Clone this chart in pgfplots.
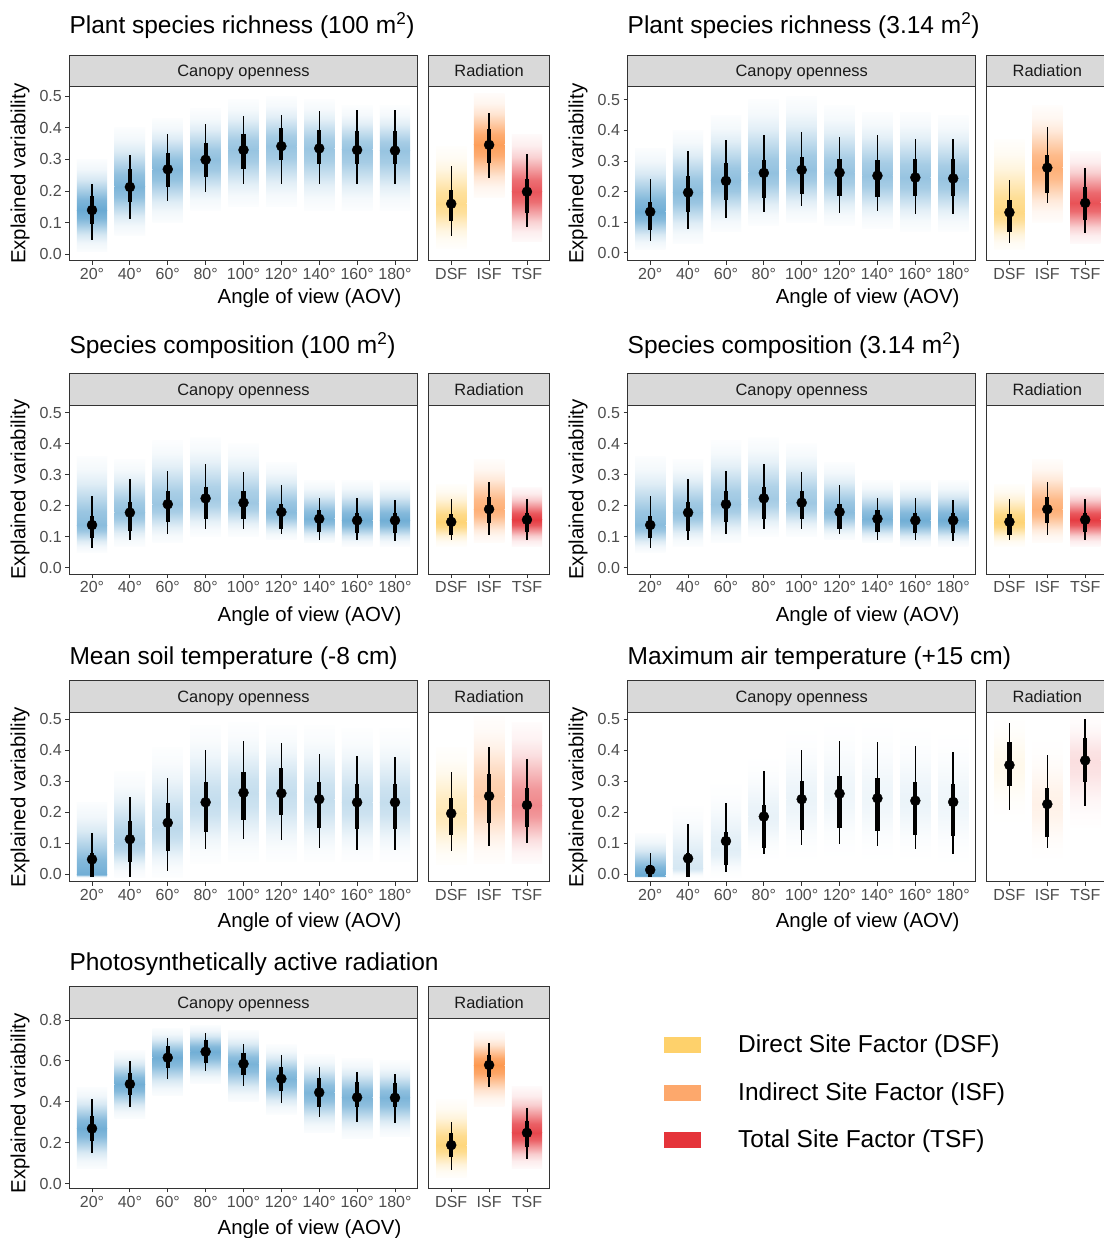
\documentclass[border=0pt]{standalone}
\usepackage{pgfplots}
\usepackage{pgfplotstable}
\pgfplotsset{compat=1.18}
\usepackage{fontspec}
\setmainfont{Liberation Sans}

\definecolor{gray20}{HTML}{333333}
\definecolor{gray30}{HTML}{4D4D4D}
\definecolor{gray85}{HTML}{D9D9D9}
\definecolor{gray10}{HTML}{1A1A1A}
\definecolor{cblue}{RGB}{88,160,206}
\definecolor{cdsf}{RGB}{254,204,92}
\definecolor{cisf}{RGB}{253,141,60}
\definecolor{ctsf}{RGB}{227,38,45}
\definecolor{ldsf}{RGB}{254,209,107}
\definecolor{lisf}{RGB}{253,168,108}
\definecolor{ltsf}{RGB}{229,52,58}
\colorlet{gcol}{cblue}

\pgfdeclareverticalshading[gcol]{gup}{100bp}{color(0bp)=(gcol!3); color(25bp)=(gcol!3); color(35bp)=(gcol!10); color(45bp)=(gcol!27); color(55bp)=(gcol!56); color(65bp)=(gcol!86); color(75bp)=(gcol); color(100bp)=(gcol)}
\pgfdeclareverticalshading[gcol]{gdown}{100bp}{color(0bp)=(gcol); color(25bp)=(gcol); color(35bp)=(gcol!86); color(45bp)=(gcol!56); color(55bp)=(gcol!27); color(65bp)=(gcol!10); color(75bp)=(gcol!3); color(100bp)=(gcol!3)}

\newcommand\fsTitle{\fontsize{24.5bp}{29bp}\selectfont}
\newcommand\fsAxis{\fontsize{20.4bp}{24bp}\selectfont}
\newcommand\fsTick{\fontsize{16bp}{19bp}\selectfont}
\newcommand\fsStrip{\fontsize{16.4bp}{19bp}\selectfont}

% ---------------- data ----------------
% columns: x, gradient low / peak / high, peak intensity (percent), colour, 95% low, 66% low, median, 66% high, 95% high
% Plant species richness (100 m2)
\pgfplotstableread{
x glo gpk ghi a c l95 l66 med h66 h95
1 0.01 0.140 0.30 90 cblue 0.045 0.096 0.140 0.185 0.222
2 0.06 0.213 0.40 78 cblue 0.112 0.167 0.213 0.269 0.313
3 0.10 0.269 0.43 74 cblue 0.169 0.214 0.269 0.320 0.380
4 0.14 0.299 0.46 66 cblue 0.197 0.243 0.299 0.351 0.412
5 0.15 0.330 0.49 62 cblue 0.223 0.271 0.330 0.381 0.438
6 0.15 0.342 0.50 62 cblue 0.223 0.297 0.342 0.400 0.440
7 0.14 0.335 0.49 60 cblue 0.223 0.287 0.335 0.392 0.453
8 0.14 0.330 0.47 62 cblue 0.223 0.285 0.330 0.390 0.456
9 0.14 0.328 0.47 62 cblue 0.221 0.285 0.328 0.390 0.455
}\PAa
\pgfplotstableread{
x glo gpk ghi a c l95 l66 med h66 h95
1 0.02 0.160 0.34 70 cdsf 0.058 0.104 0.160 0.205 0.280
2 0.18 0.346 0.51 85 cisf 0.240 0.290 0.346 0.395 0.447
3 0.04 0.198 0.38 78 ctsf 0.085 0.130 0.198 0.239 0.318
}\PBa
% Plant species richness (3.14 m2)
\pgfplotstableread{
x glo gpk ghi a c l95 l66 med h66 h95
1 0.01 0.134 0.34 85 cblue 0.038 0.076 0.134 0.167 0.240
2 0.03 0.197 0.40 70 cblue 0.079 0.133 0.197 0.251 0.333
3 0.07 0.235 0.45 68 cblue 0.114 0.171 0.235 0.293 0.369
4 0.09 0.261 0.50 65 cblue 0.133 0.180 0.261 0.302 0.384
5 0.10 0.271 0.51 64 cblue 0.153 0.191 0.271 0.313 0.395
6 0.09 0.262 0.48 62 cblue 0.131 0.186 0.262 0.308 0.379
7 0.08 0.252 0.46 62 cblue 0.136 0.183 0.252 0.302 0.384
8 0.07 0.246 0.46 62 cblue 0.126 0.186 0.246 0.306 0.371
9 0.07 0.243 0.45 62 cblue 0.126 0.186 0.243 0.306 0.371
}\PAb
\pgfplotstableread{
x glo gpk ghi a c l95 l66 med h66 h95
1 0.01 0.132 0.37 75 cdsf 0.033 0.069 0.132 0.171 0.237
2 0.10 0.278 0.48 70 cisf 0.164 0.195 0.278 0.320 0.412
3 0.03 0.163 0.33 80 ctsf 0.066 0.106 0.163 0.215 0.278
}\PBb
% Species composition (100 m2) and (3.14 m2)
\pgfplotstableread{
x glo gpk ghi a c l95 l66 med h66 h95
1 0.05 0.138 0.36 70 cblue 0.065 0.095 0.138 0.168 0.231
2 0.07 0.178 0.35 65 cblue 0.089 0.119 0.178 0.211 0.285
3 0.08 0.205 0.41 60 cblue 0.108 0.148 0.205 0.247 0.313
4 0.10 0.224 0.42 55 cblue 0.124 0.158 0.224 0.259 0.334
5 0.10 0.210 0.40 58 cblue 0.124 0.157 0.210 0.248 0.310
6 0.09 0.180 0.34 70 cblue 0.108 0.125 0.180 0.205 0.267
7 0.08 0.158 0.28 80 cblue 0.089 0.117 0.158 0.186 0.226
8 0.07 0.153 0.28 85 cblue 0.089 0.111 0.153 0.177 0.224
9 0.07 0.153 0.28 85 cblue 0.087 0.111 0.153 0.177 0.220
}\PAc
\pgfplotstableread{
x glo gpk ghi a c l95 l66 med h66 h95
1 0.07 0.148 0.27 85 cdsf 0.089 0.106 0.148 0.175 0.223
2 0.08 0.189 0.35 70 cisf 0.105 0.143 0.189 0.227 0.277
3 0.07 0.155 0.26 90 ctsf 0.089 0.114 0.155 0.177 0.223
}\PBc
% Mean soil temperature (-8 cm)
\pgfplotstableread{
x glo gpk ghi a c l95 l66 med h66 h95
1 -0.01 0.000 0.23 85 cblue -0.008 -0.008 0.048 0.070 0.134
2 -0.01 0.100 0.33 50 cblue -0.008 0.041 0.113 0.173 0.248
3 -0.01 0.150 0.41 40 cblue 0.012 0.075 0.166 0.231 0.311
4 0.035 0.232 0.48 36 cblue 0.080 0.137 0.232 0.296 0.400
5 0.04 0.263 0.49 35 cblue 0.113 0.175 0.263 0.328 0.429
6 0.04 0.261 0.48 35 cblue 0.111 0.191 0.261 0.341 0.424
7 0.04 0.242 0.48 35 cblue 0.084 0.150 0.242 0.296 0.389
8 0.04 0.232 0.47 35 cblue 0.078 0.146 0.232 0.290 0.382
9 0.04 0.232 0.47 35 cblue 0.078 0.146 0.232 0.290 0.377
}\PAe
\pgfplotstableread{
x glo gpk ghi a c l95 l66 med h66 h95
1 0.03 0.196 0.41 45 cdsf 0.076 0.127 0.196 0.246 0.330
2 0.035 0.252 0.51 45 cisf 0.091 0.164 0.252 0.322 0.411
3 0.035 0.223 0.49 55 ctsf 0.100 0.153 0.223 0.279 0.371
}\PBe
% Maximum air temperature (+15 cm)
\pgfplotstableread{
x glo gpk ghi a c l95 l66 med h66 h95
1 -0.01 -0.005 0.13 90 cblue -0.008 -0.008 0.014 0.030 0.068
2 -0.01 0.020 0.22 25 cblue -0.008 -0.008 0.051 0.068 0.161
3 -0.01 0.080 0.29 18 cblue 0.008 0.030 0.107 0.137 0.230
4 0.05 0.186 0.37 14 cblue 0.064 0.084 0.186 0.222 0.333
5 0.05 0.242 0.46 12 cblue 0.094 0.143 0.242 0.300 0.400
6 0.06 0.260 0.49 10 cblue 0.097 0.150 0.260 0.317 0.429
7 0.05 0.245 0.49 10 cblue 0.092 0.141 0.245 0.309 0.427
8 0.05 0.237 0.47 12 cblue 0.083 0.127 0.237 0.298 0.415
9 0.04 0.233 0.45 10 cblue 0.064 0.123 0.233 0.291 0.395
}\PAf
\pgfplotstableread{
x glo gpk ghi a c l95 l66 med h66 h95
1 0.17 0.352 0.52 12 cdsf 0.207 0.284 0.352 0.425 0.486
2 0.05 0.226 0.43 12 cisf 0.084 0.121 0.226 0.279 0.384
3 0.15 0.367 0.52 15 ctsf 0.220 0.298 0.367 0.438 0.499
}\PBf
% Photosynthetically active radiation
\pgfplotstableread{
x glo gpk ghi a c l95 l66 med h66 h95
1 0.075 0.270 0.47 85 cblue 0.151 0.210 0.270 0.331 0.412
2 0.32 0.487 0.65 85 cblue 0.375 0.433 0.487 0.539 0.599
3 0.43 0.616 0.76 85 cblue 0.510 0.567 0.616 0.673 0.710
4 0.49 0.645 0.775 85 cblue 0.550 0.591 0.645 0.702 0.738
5 0.40 0.586 0.75 80 cblue 0.479 0.531 0.586 0.637 0.681
6 0.34 0.513 0.68 78 cblue 0.393 0.453 0.513 0.568 0.629
7 0.25 0.446 0.63 78 cblue 0.327 0.376 0.446 0.515 0.568
8 0.22 0.422 0.61 78 cblue 0.300 0.373 0.422 0.495 0.544
9 0.23 0.420 0.60 78 cblue 0.295 0.373 0.420 0.490 0.536
}\PAg
\pgfplotstableread{
x glo gpk ghi a c l95 l66 med h66 h95
1 0.03 0.189 0.41 80 cdsf 0.067 0.132 0.189 0.249 0.303
2 0.376 0.580 0.743 90 cisf 0.474 0.523 0.580 0.628 0.686
3 0.077 0.249 0.474 85 ctsf 0.119 0.181 0.249 0.306 0.368
}\PBg

% ---------------- drawing helpers ----------------
\newcommand\gradbars[1]{%
  \pgfplotstablegetrowsof{#1}%
  \pgfmathtruncatemacro\gbN{\pgfplotsretval-1}%
  \pgfplotsforeachungrouped \gbi in {0,...,\gbN}{%
    \pgfplotstablegetelem{\gbi}{x}\of{#1}\let\gbx\pgfplotsretval
    \pgfplotstablegetelem{\gbi}{glo}\of{#1}\let\gblo\pgfplotsretval
    \pgfplotstablegetelem{\gbi}{gpk}\of{#1}\let\gbpk\pgfplotsretval
    \pgfplotstablegetelem{\gbi}{ghi}\of{#1}\let\gbhi\pgfplotsretval
    \pgfplotstablegetelem{\gbi}{a}\of{#1}\let\gba\pgfplotsretval
    \pgfplotstablegetelem{\gbi}{c}\of{#1}\let\gbc\pgfplotsretval
    \pgfmathsetmacro\gbl{\gbx-0.4}%
    \pgfmathsetmacro\gbr{\gbx+0.4}%
    \edef\gbcmd{%
      \noexpand\addplot[draw=none, /utils/exec={\noexpand\colorlet{gcol}{\gbc!\gba}}, shading=gup]
        coordinates {(\gbl,\gblo) (\gbr,\gblo) (\gbr,\gbpk) (\gbl,\gbpk)} -- cycle;
      \noexpand\addplot[draw=none, /utils/exec={\noexpand\colorlet{gcol}{\gbc!\gba}}, shading=gdown]
        coordinates {(\gbl,\gbpk) (\gbr,\gbpk) (\gbr,\gbhi) (\gbl,\gbhi)} -- cycle;
    }\gbcmd
  }%
}
\newcommand\intervals[1]{%
  \addplot[only marks, mark=none, error bars/.cd, y dir=both, y explicit, error mark=none,
    error bar style={draw=black, line width=1.4bp}]
    table[x=x, y=med, y error plus expr=\thisrow{h95}-\thisrow{med}, y error minus expr=\thisrow{med}-\thisrow{l95}] {#1};
  \addplot[only marks, mark=none, error bars/.cd, y dir=both, y explicit, error mark=none,
    error bar style={draw=black, line width=4.2bp}]
    table[x=x, y=med, y error plus expr=\thisrow{h66}-\thisrow{med}, y error minus expr=\thisrow{med}-\thisrow{l66}] {#1};
  \addplot[only marks, mark=*, mark size=5bp, mark options={draw=black, fill=black}] table[x=x, y=med] {#1};
}

\pgfplotsset{
  facet/.style={scale only axis, anchor=north west,
    axis line style={draw=gray20, line width=0.9bp},
    tick align=outside, major tick length=4bp,
    every tick/.style={draw=gray20, line width=0.9bp},
    tick pos=left,
    xticklabel style={font=\fsTick, text=gray30},
    yticklabel style={font=\fsTick, text=gray30},
    clip=true},
  yA/.style={ytick={0,0.1,0.2,0.3,0.4,0.5}, yticklabels={0.0,0.1,0.2,0.3,0.4,0.5}},
  yB/.style={ytick={0,0.2,0.4,0.6,0.8}, yticklabels={0.0,0.2,0.4,0.6,0.8}},
}

% #1 canopy left, #2 radiation left, #3 top, #4 height, #5 ymin, #6 ymax, #7 y style, #8 table A, #9 table B
\newcommand\facetpair[9]{%
  \begin{axis}[facet, at={(#1bp,-#3bp)}, width=348.4bp, height=#4bp,
    xmin=0.4, xmax=9.6, xtick={1,2,3,4,5,6,7,8,9},
    xticklabels={20°,40°,60°,80°,100°,120°,140°,160°,180°},
    ymin=#5, ymax=#6, #7]
    \gradbars{#8}\intervals{#8}
  \end{axis}
  \begin{axis}[facet, at={(#2bp,-#3bp)}, width=121.2bp, height=#4bp,
    xmin=0.4, xmax=3.6, xtick={1,2,3}, xticklabels={DSF,ISF,TSF},
    ymin=#5, ymax=#6, ytick=\empty]
    \gradbars{#9}\intervals{#9}
  \end{axis}
  \draw[fill=gray85, draw=gray20, line width=0.9bp] (#1bp,-#3bp) rectangle ++(348.4bp,31.5bp);
  \draw[fill=gray85, draw=gray20, line width=0.9bp] (#2bp,-#3bp) rectangle ++(121.2bp,31.5bp);
  \path (#1bp,-#3bp) ++(174.2bp,10bp) node[anchor=base, inner sep=0pt, font=\fsStrip, text=gray10]{Canopy openness};
  \path (#2bp,-#3bp) ++(60.6bp,10bp) node[anchor=base, inner sep=0pt, font=\fsStrip, text=gray10]{Radiation};
}

\begin{document}
\begin{tikzpicture}
\useasboundingbox (0,0) rectangle (1104bp,-1238bp);
\fill[white] (0,0) rectangle (1104bp,-1238bp);

% Row 1
\facetpair{69.3}{428.5}{86.7}{174}{-0.020}{0.530}{yA}{\PAa}{\PBa}
\facetpair{627.5}{986.7}{86.7}{174}{-0.026}{0.543}{yA}{\PAb}{\PBb}
% Row 2
\facetpair{69.3}{428.5}{405}{169}{-0.020}{0.525}{yA}{\PAc}{\PBc}
\facetpair{627.5}{986.7}{405}{169}{-0.020}{0.525}{yA}{\PAc}{\PBc}
% Row 3
\facetpair{69.3}{428.5}{712.3}{169.4}{-0.024}{0.522}{yA}{\PAe}{\PBe}
\facetpair{627.5}{986.7}{712.3}{169.4}{-0.024}{0.522}{yA}{\PAf}{\PBf}
% Row 4
\facetpair{69.3}{428.5}{1018.3}{170}{-0.022}{0.808}{yB}{\PAg}{\PBg}

% titles
\node[anchor=base west, font=\fsTitle, inner sep=0pt] at (69.3bp,-33.7bp) {Plant species richness (100 m\textsuperscript{2})};
\node[anchor=base west, font=\fsTitle, inner sep=0pt] at (627.5bp,-33.7bp) {Plant species richness (3.14 m\textsuperscript{2})};
\node[anchor=base west, font=\fsTitle, inner sep=0pt] at (69.3bp,-353.7bp) {Species composition (100 m\textsuperscript{2})};
\node[anchor=base west, font=\fsTitle, inner sep=0pt] at (627.5bp,-353.7bp) {Species composition (3.14 m\textsuperscript{2})};
\node[anchor=base west, font=\fsTitle, inner sep=0pt] at (69.3bp,-664.7bp) {Mean soil temperature (-8 cm)};
\node[anchor=base west, font=\fsTitle, inner sep=0pt] at (627.5bp,-664.7bp) {Maximum air temperature (+15 cm)};
\node[anchor=base west, font=\fsTitle, inner sep=0pt] at (69.3bp,-970.7bp) {Photosynthetically active radiation};

% y labels
\foreach \yc in {173.7,489.5,797}{
  \node[rotate=90, font=\fsAxis] at (20bp,-\yc bp) {Explained variability};
  \node[rotate=90, font=\fsAxis] at (578bp,-\yc bp) {Explained variability};
}
\node[rotate=90, font=\fsAxis] at (20bp,-1103.3bp) {Explained variability};

% x labels (centred on both facets)
\foreach \yb in {303.5,621,927.5}{
  \node[anchor=base, font=\fsAxis, inner sep=0pt] at (309.5bp,-\yb bp) {Angle of view (AOV)};
  \node[anchor=base, font=\fsAxis, inner sep=0pt] at (867.7bp,-\yb bp) {Angle of view (AOV)};
}
\node[anchor=base, font=\fsAxis, inner sep=0pt] at (309.5bp,-1234bp) {Angle of view (AOV)};

% legend
\fill[ldsf] (664bp,-1037bp) rectangle (701bp,-1053bp);
\fill[lisf] (664bp,-1085bp) rectangle (701bp,-1101bp);
\fill[ltsf] (664bp,-1132bp) rectangle (701bp,-1148bp);
\node[anchor=west, font=\fsTitle, inner sep=0pt] at (738bp,-1046bp) {Direct Site Factor (DSF)};
\node[anchor=west, font=\fsTitle, inner sep=0pt] at (738bp,-1094bp) {Indirect Site Factor (ISF)};
\node[anchor=west, font=\fsTitle, inner sep=0pt] at (738bp,-1141bp) {Total Site Factor (TSF)};
\end{tikzpicture}
\end{document}
